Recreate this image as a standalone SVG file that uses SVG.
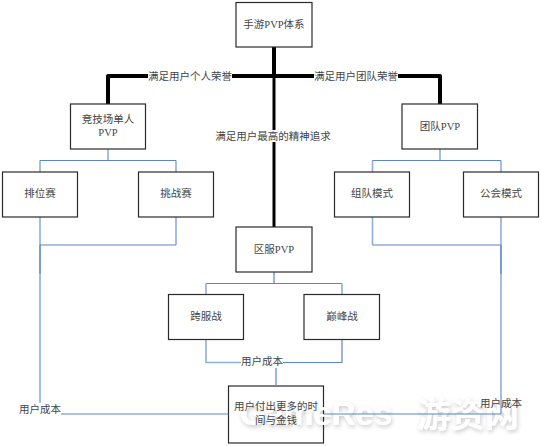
<svg xmlns="http://www.w3.org/2000/svg" width="542" height="446" viewBox="0 0 542 446">
<style>
.b{fill:#fff;stroke:#2a2a2a;stroke-width:1.2}
.t{font-family:"Liberation Serif","Noto Sans CJK SC",serif;font-size:10.5px;fill:#444;text-anchor:middle}
.k{fill:none;stroke:#000;stroke-linejoin:round}
.l{fill:none;stroke:#5b86c4;stroke-width:1.2}
.m{fill:none;stroke:#8fb0de;stroke-width:1.6}
.w{font-family:"Liberation Sans","Noto Sans CJK SC",sans-serif;font-weight:bold;fill:#fff}
</style>
<defs><filter id="soft" x="-10%" y="-30%" width="120%" height="160%"><feDropShadow dx="1" dy="2" stdDeviation="2" flood-color="#000" flood-opacity="0.22"/></filter></defs>
<rect width="542" height="446" fill="#fff"/>
<g id="node-pay"><rect class="b" x="228.500" y="386" width="95" height="57"/></g>
<g id="watermark" filter="url(#soft)"><text class="w" x="240" y="425" font-size="33">GameRes</text><text class="w" x="417" y="427" font-size="34">游资网</text></g>
<g id="connectors">
<path class="k" stroke-width="4" d="M108 104V76H440V104"/>
<path class="k" stroke-width="4" d="M274 47V76"/>
<path class="k" stroke-width="3" d="M274 76V227"/>
<path class="m" d="M108 149V160.500M440 149V160.500M40 160.500V172M176 160.500V172M372.500 160.500V172M501 160.500V172"/>
<path class="l" d="M40 160.500H176M372.500 160.500H501"/>
<path class="m" d="M40 217V403M501 217V414M176 217V245M372.500 217V245"/>
<path class="l" d="M40 245H176M372.500 245H501M40 245V274M501 245V274"/>
<path class="l" d="M274 272V283.500M206 283.500H342"/>
<path class="m" d="M206 283.500V294.500M342 283.500V294.500M206 339.500V362.500H241"/>
<path class="l" d="M342 339.500V362.500H283M276 362.500V386"/>
<path class="l" d="M61 414H228.500M323.500 414H501"/>
</g>
<g id="node-root"><rect class="b" x="236" y="2.500" width="76" height="44.500"/><text class="t" x="274" y="28">手游PVP体系</text></g>
<g id="node-solo"><rect class="b" x="70.500" y="104" width="75" height="45"/><text class="t" x="108" y="123">竞技场单人</text><text class="t" x="108" y="136">PVP</text></g>
<g id="node-rank"><rect class="b" x="2.500" y="172" width="75" height="45"/><text class="t" x="40" y="197">排位赛</text></g>
<g id="node-challenge"><rect class="b" x="138.500" y="172" width="75" height="45"/><text class="t" x="176" y="197">挑战赛</text></g>
<g id="node-team"><rect class="b" x="402" y="104" width="75.500" height="45"/><text class="t" x="440" y="130">团队PVP</text></g>
<g id="node-squad"><rect class="b" x="334.500" y="172" width="75" height="45"/><text class="t" x="372" y="197">组队模式</text></g>
<g id="node-guild"><rect class="b" x="463.500" y="172" width="75" height="45"/><text class="t" x="501" y="197">公会模式</text></g>
<g id="node-server"><rect class="b" x="236" y="227" width="76" height="45"/><text class="t" x="274" y="253">区服PVP</text></g>
<g id="node-cross"><rect class="b" x="168.500" y="294.500" width="75" height="45"/><text class="t" x="206" y="320">跨服战</text></g>
<g id="node-peak"><rect class="b" x="304" y="294.500" width="75.500" height="45"/><text class="t" x="342" y="320">巅峰战</text></g>
<g id="labels">
<text class="t" x="276" y="410">用户付出更多的时</text><text class="t" x="276" y="424">间与金钱</text>
<rect x="148" y="70" width="84" height="12" fill="#fff"/><text class="t" x="190" y="79.500">满足用户个人荣誉</text>
<rect x="314" y="70" width="84" height="12" fill="#fff"/><text class="t" x="356" y="79.500">满足用户团队荣誉</text>
<rect x="215" y="130" width="117" height="12" fill="#fff"/><text class="t" x="273" y="140">满足用户最高的精神追求</text>
<rect x="241" y="356" width="42" height="12" fill="#fff"/><text class="t" x="262" y="365">用户成本</text>
<text class="t" x="40" y="413">用户成本</text>
<text class="t" x="501" y="407">用户成本</text>
</g>
</svg>
